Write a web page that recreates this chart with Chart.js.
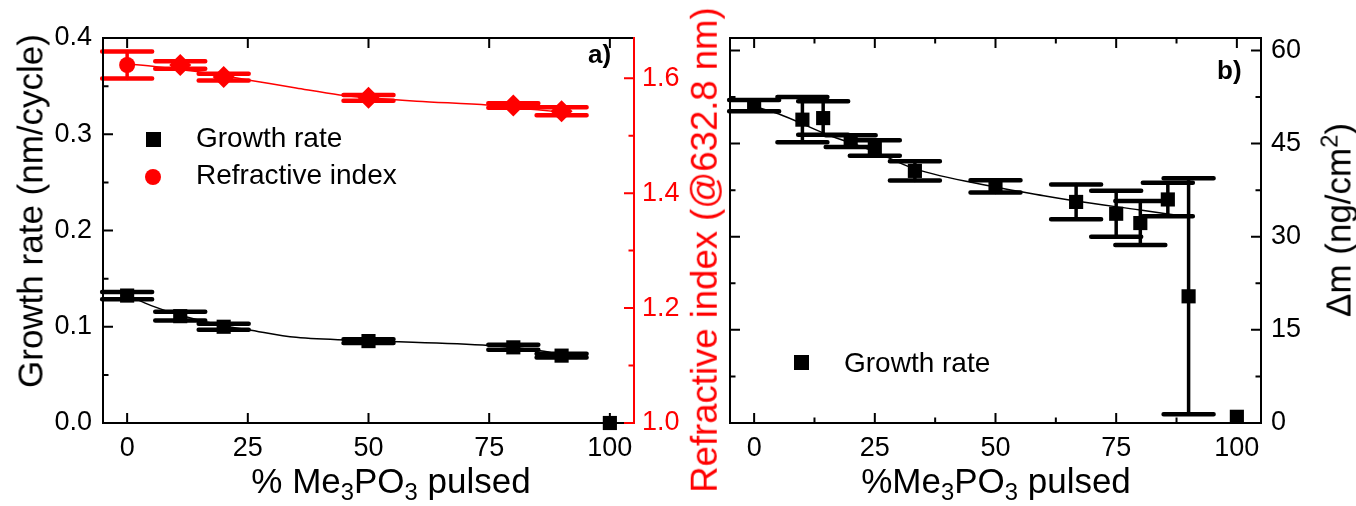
<!DOCTYPE html>
<html>
<head>
<meta charset="utf-8">
<script src="https://cdn.jsdelivr.net/npm/chart.js@4.4.0/dist/chart.umd.min.js"></script>
<style>
    html, body { margin:0; padding:0; background:#fff; }
    #wrap { position:relative; width:1356px; height:506px; overflow:hidden; font-family:"Liberation Sans", Arial, sans-serif; }
    .pane { position:absolute; top:0; }
    .t   { position:absolute; white-space:nowrap; color:#000; }
    .ttl { font-size:35px; line-height:35px; }
    .rot { transform:translate(-50%,-50%) rotate(-90deg); }
    .xt  { transform:translateX(-50%); }
    .lg  { font-size:28px; line-height:28px; }
    .pl  { font-size:26px; line-height:26px; font-weight:bold; }
    .mk  { position:absolute; }
    sub  { font-size:0.68em; vertical-align:-0.3em; line-height:0; }
    sup  { font-size:0.68em; vertical-align:0.55em; line-height:0; }
</style>
</head>
<body>
<div id="wrap">
    <div class="pane" style="left:0;width:690px;height:506px"><canvas id="chartA" width="690" height="506"></canvas></div>
    <div class="pane" style="left:690px;width:666px;height:506px"><canvas id="chartB" width="666" height="506"></canvas></div>

    <!-- axis titles -->
    <div class="t ttl rot" style="left:30px;top:211px">Growth rate (nm/cycle)</div>
    <div class="t ttl rot" style="left:705px;top:250px;color:#f00;font-size:36.5px;line-height:36.5px">Refractive index (@632.8 nm)</div>
    <div class="t ttl rot" style="left:1338px;top:220px">&Delta;m (ng/cm<sup>2</sup>)</div>
    <div class="t ttl xt" style="left:391px;top:463px">% Me<sub>3</sub>PO<sub>3</sub> pulsed</div>
    <div class="t ttl xt" style="left:996px;top:463px">%Me<sub>3</sub>PO<sub>3</sub> pulsed</div>

    <!-- panel labels -->
    <div class="t pl" style="left:588px;top:41px">a)</div>
    <div class="t pl" style="left:1217px;top:57px">b)</div>

    <!-- legends -->
    <div class="mk" style="left:146px;top:132px;width:15px;height:15px;background:#000"></div>
    <div class="t lg" style="left:196px;top:124px">Growth rate</div>
    <div class="mk" style="left:145px;top:169px;width:16px;height:16px;border-radius:50%;background:#f00"></div>
    <div class="t lg" style="left:196px;top:161px">Refractive index</div>

    <div class="mk" style="left:794px;top:355px;width:15px;height:15px;background:#000"></div>
    <div class="t lg" style="left:844px;top:349px">Growth rate</div>
</div>

<script>
// ── Data: panel a ─────────────────────────────────────────────────────
const pctGR          = [0, 11, 20, 50, 80, 90, 100];
const growthRate     = [0.1324, 0.111, 0.100, 0.0851, 0.0786, 0.070, 0.0];
const growthRateErr  = [0.0038, 0.0045, 0.003, 0.002, 0.0026, 0.002, 0];

const pctRI          = [0, 11, 20, 50, 80, 90];
const refIndex       = [1.623, 1.623, 1.602, 1.566, 1.5525, 1.5426];
const refIndexErr    = [0.0235, 0.0066, 0.006, 0.005, 0.004, 0.007];

// fitted curves
const fitPctGR       = [0, 5, 11, 20, 25, 35, 50, 75, 85, 90];
const fitGR          = [0.133, 0.122, 0.112, 0.101, 0.097, 0.089, 0.0855, 0.0805, 0.0755, 0.071];
const fitPctRI       = [0, 6, 14, 25, 35, 44, 50, 60, 75, 85, 90];
const fitRI          = [1.625, 1.620, 1.612, 1.597, 1.583, 1.571, 1.566, 1.560, 1.553, 1.545, 1.541];

// ── Data: panel b ─────────────────────────────────────────────────────
const pctMass        = [0, 10, 14.3, 20, 25, 33.3, 50, 66.7, 75, 80, 85.7, 90, 100];
const massGain       = [51.1, 48.85, 49.1, 45.4, 44.3, 40.6, 38.1, 35.6, 33.7, 32.2, 36.0, 20.4, 1.0];
const massGainErr    = [0.9, 3.65, 2.7, 0.95, 1.25, 1.55, 1.0, 2.8, 3.7, 3.55, 2.7, 19.0, 0];

const fitPctMass     = [0, 5, 15, 25, 33, 50, 60, 67, 80, 88];
const fitMass        = [51.0, 49.8, 46.5, 43.7, 41.0, 38.0, 36.6, 35.7, 34.3, 33.4];

// ── Tick labels ───────────────────────────────────────────────────────
const xMinorA   = [];
const yMinorA   = [0.05, 0.15, 0.25, 0.35];
const y2MinorA  = [1.1, 1.3, 1.5];
const xMinorB   = [12.5, 37.5, 62.5, 87.5];
const yMinorB   = [7.5, 22.5, 37.5, 52.5];

// ── Helpers ───────────────────────────────────────────────────────────
const FONT = '"Liberation Sans", Arial, sans-serif';
const TICK_FONT = { family: FONT, size: 27 };
const xy   = (xs, ys) => xs.map((x, i) => ({ x, y: ys[i] }));

// vertical error bars with wide caps, drawn under the markers
const errorBars = {
    id: 'errorBars',
    beforeDatasetsDraw(chart) {
        const ctx = chart.ctx;
        chart.data.datasets.forEach((ds, i) => {
            if (!ds.errors) return;
            const meta = chart.getDatasetMeta(i);
            const ys   = chart.scales[ds.yAxisID];
            ctx.save();
            ctx.strokeStyle = ds.borderColor;
            ctx.lineCap = 'round';
            meta.data.forEach((pt, j) => {
                const e = ds.errors[j];
                if (!e) return;
                const v  = ds.data[j].y;
                const y1 = ys.getPixelForValue(v + e);
                const y2 = ys.getPixelForValue(v - e);
                ctx.lineWidth = 3.5;
                ctx.beginPath(); ctx.moveTo(pt.x, y1); ctx.lineTo(pt.x, y2); ctx.stroke();
                ctx.lineWidth = 4.5;
                ctx.beginPath();
                ctx.moveTo(pt.x - 25, y1); ctx.lineTo(pt.x + 25, y1);
                ctx.moveTo(pt.x - 25, y2); ctx.lineTo(pt.x + 25, y2);
                ctx.stroke();
            });
            ctx.restore();
        });
    }
};

// box frame with inward-pointing ticks
const frameTicks = {
    id: 'frameTicks',
    afterDraw(chart, args, opts) {
        const { ctx, chartArea: a } = chart;
        ctx.save();
        ctx.lineWidth = 2;
        opts.edges.forEach(ed => {
            const sc   = chart.scales[ed.axis];
            const vals = sc.ticks.map(t => ({ v: t.value, len: 10 }))
                           .concat((ed.minor || []).map(v => ({ v, len: 5.5 })));
            ctx.strokeStyle = ed.color;
            ctx.beginPath();
            if (ed.side === 'bottom' || ed.side === 'top') {
                const y = ed.side === 'bottom' ? a.bottom : a.top;
                const d = ed.side === 'bottom' ? -1 : 1;
                ctx.moveTo(a.left - 1, y); ctx.lineTo(a.right + 1, y);
                vals.forEach(t => {
                    const x = sc.getPixelForValue(t.v);
                    ctx.moveTo(x, y); ctx.lineTo(x, y + d * t.len);
                });
            } else {
                const x = ed.side === 'left' ? a.left : a.right;
                const d = ed.side === 'left' ? 1 : -1;
                ctx.moveTo(x, a.top - 1); ctx.lineTo(x, a.bottom + 1);
                vals.forEach(t => {
                    const y = sc.getPixelForValue(t.v);
                    ctx.moveTo(x, y); ctx.lineTo(x + d * t.len, y);
                });
            }
            ctx.stroke();
        });
        ctx.restore();
    }
};

function axis(opts) {
    return Object.assign({
        type: 'linear',
        grid:   { display:false, drawTicks:false },
        border: { display:false },
    }, opts);
}

// ── Panel a ───────────────────────────────────────────────────────────
new Chart(document.getElementById('chartA'), {
    type: 'scatter',
    data: {
        datasets: [
            { data: xy(fitPctGR, fitGR), yAxisID:'y', showLine:true, borderColor:'#000', borderWidth:1.5,
              pointRadius:0, cubicInterpolationMode:'monotone', clip:false },
            { data: xy(fitPctRI, fitRI), yAxisID:'y2', showLine:true, borderColor:'#f00', borderWidth:1.5,
              pointRadius:0, cubicInterpolationMode:'monotone', clip:false },
            { label:'Growth rate', data: xy(pctGR, growthRate), errors: growthRateErr, yAxisID:'y',
              pointStyle:'rect', pointRadius:10, borderWidth:0, backgroundColor:'#000', borderColor:'#000', clip:false },
            { label:'Refractive index', data: xy(pctRI, refIndex), errors: refIndexErr, yAxisID:'y2',
              pointStyle: pctRI.map((_, i) => i ? 'rectRot' : 'circle'),
              pointRadius: pctRI.map((_, i) => i ? 11 : 8),
              borderWidth:0, backgroundColor:'#f00', borderColor:'#f00', clip:false },
        ]
    },
    options: {
        responsive:false, animation:false,
        layout: { padding: { top:38, left:0, right:0, bottom:0 } },
        plugins: {
            legend:{ display:false }, tooltip:{ enabled:false },
            frameTicks: { edges: [
                { side:'bottom', axis:'x',  color:'#000', minor:xMinorA },
                { side:'top',    axis:'x',  color:'#000', minor:xMinorA },
                { side:'left',   axis:'y',  color:'#000', minor:yMinorA },
                { side:'right',  axis:'y2', color:'#f00', minor:y2MinorA },
            ]}
        },
        scales: {
            x: axis({ position:'bottom', min:-5, max:105,
                ticks:{ stepSize:25, includeBounds:false, padding:9, color:'#000', font:TICK_FONT },
                afterFit: s => { s.height = 83; } }),
            y: axis({ position:'left', min:0, max:0.4,
                ticks:{ stepSize:0.1, padding:11, color:'#000', font:TICK_FONT, callback: v => v.toFixed(1) },
                afterFit: s => { s.width = 103; } }),
            y2: axis({ position:'right', min:1.0, max:1.67,
                ticks:{ stepSize:0.2, includeBounds:false, padding:8, color:'#f00', font:TICK_FONT, callback: v => v.toFixed(1) },
                afterFit: s => { s.width = 56; } }),
        }
    },
    plugins: [errorBars, frameTicks]
});

// ── Panel b ───────────────────────────────────────────────────────────
new Chart(document.getElementById('chartB'), {
    type: 'scatter',
    data: {
        datasets: [
            { data: xy(fitPctMass, fitMass), yAxisID:'y', showLine:true, borderColor:'#000', borderWidth:1.5,
              pointRadius:0, cubicInterpolationMode:'monotone', clip:false },
            { label:'Growth rate', data: xy(pctMass, massGain), errors: massGainErr, yAxisID:'y',
              pointStyle:'rect', pointRadius:10, borderWidth:0, backgroundColor:'#000', borderColor:'#000', clip:false },
        ]
    },
    options: {
        responsive:false, animation:false,
        layout: { padding: { top:38, left:40, right:0, bottom:0 } },
        plugins: {
            legend:{ display:false }, tooltip:{ enabled:false },
            frameTicks: { edges: [
                { side:'bottom', axis:'x', color:'#000', minor:xMinorB },
                { side:'top',    axis:'x', color:'#000', minor:xMinorB },
                { side:'left',   axis:'y', color:'#000', minor:yMinorB },
                { side:'right',  axis:'y', color:'#000', minor:yMinorB },
            ]}
        },
        scales: {
            x: axis({ position:'bottom', min:-5, max:105,
                ticks:{ stepSize:25, includeBounds:false, padding:9, color:'#000', font:TICK_FONT },
                afterFit: s => { s.height = 83; } }),
            y: axis({ position:'right', min:0, max:62,
                ticks:{ stepSize:15, includeBounds:false, padding:10, color:'#000', font:TICK_FONT },
                afterFit: s => { s.width = 95; } }),
        }
    },
    plugins: [errorBars, frameTicks]
});
</script>
</body>
</html>
